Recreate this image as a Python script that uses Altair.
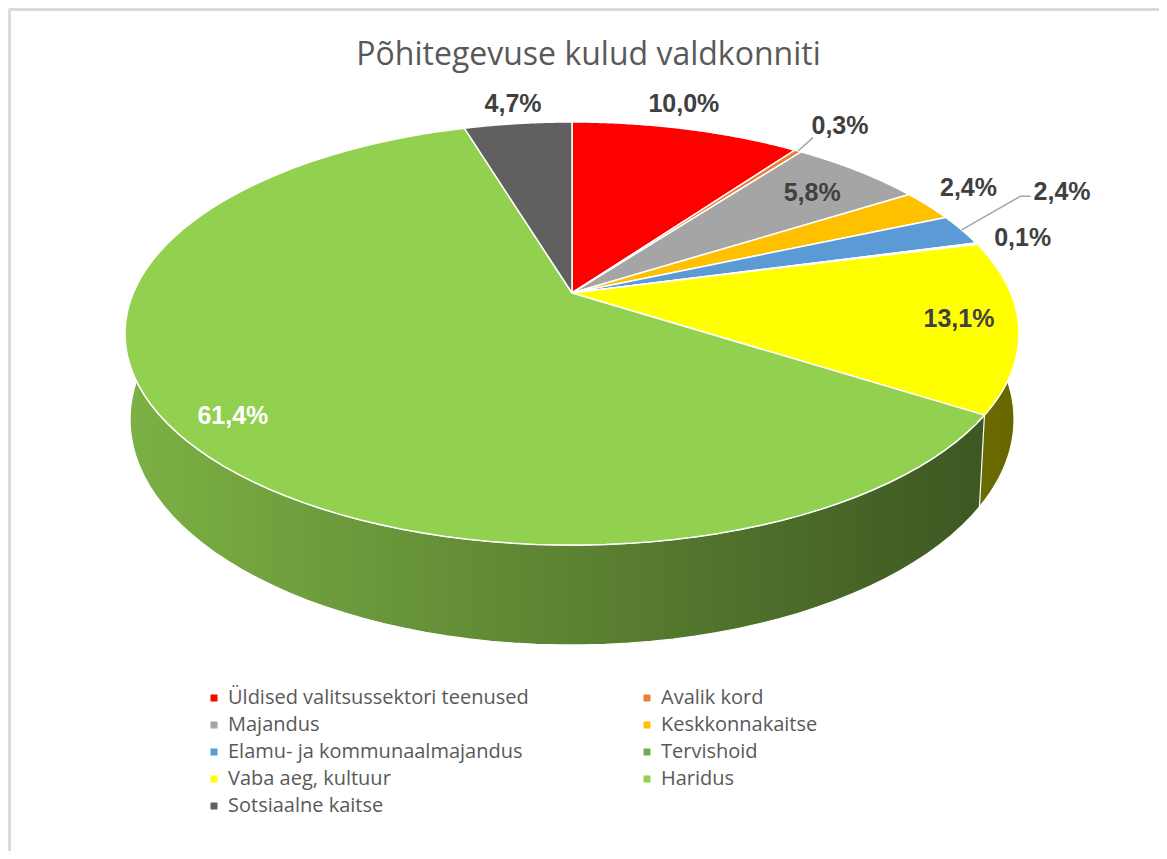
import altair as alt
import pandas as pd

# ---- data -------------------------------------------------------------
CATEGORIES = [
    "Üldised valitsussektori teenused",
    "Avalik kord",
    "Majandus",
    "Keskkonnakaitse",
    "Elamu- ja kommunaalmajandus",
    "Tervishoid",
    "Vaba aeg, kultuur",
    "Haridus",
    "Sotsiaalne kaitse",
]
VALUES = [10.0, 0.3, 5.8, 2.4, 2.4, 0.1, 13.1, 61.4, 4.7]
COLORS = ["#FF0000", "#ED7D31", "#A5A5A5", "#FFC000", "#5B9BD5",
          "#70AD47", "#FFFF00", "#92D050", "#606060"]

# ---- label layout (radial factor, angular nudge in degrees, leader type) ----
LABEL_R = [1.17, 1.21, 0.81, 1.155, 1.35, 1.12, 0.87, 0.88, 1.14]
LABEL_DA = [-2.6, 0.3, 0.8, -1.9, -4.7, 0.0, -0.8, -0.9, 0.2]
LEADER = [0, 1, 0, 0, 2, 0, 0, 0, 0]

# legend is filled column by column: reorder so it reads row by row
LEGEND_DOMAIN = CATEGORIES[0::2] + CATEGORIES[1::2]
LEGEND_RANGE = COLORS[0::2] + COLORS[1::2]

# ---- geometry of the 3-D view -----------------------------------------
W, HH = 1151, 843
CX, CY = 564, 285          # apex of the pie in plot coordinates
F, S, C, D = 2027, 0.4645, 0.885, 4.62
H = 0.218                  # thickness of the pie
HS = 0.5                   # perspective factor applied to the thickness
N = 90

df = pd.DataFrame({
    "category": CATEGORIES, "value": VALUES, "idx": list(range(len(VALUES))),
    "lr": LABEL_R, "lda": LABEL_DA, "leader": LEADER,
})

xs = alt.Scale(domain=[0, W], nice=False, zero=False)
ys = alt.Scale(domain=[0, HH], nice=False, zero=False, reverse=True)
X = alt.X("X:Q", scale=xs, axis=None)
Y = alt.Y("Y:Q", scale=ys, axis=None)

legend = alt.Legend(
    title=None, orient="none", legendX=196, legendY=680, columns=2,
    columnPadding=108, rowPadding=7, symbolType="square", symbolSize=49,
    symbolStrokeWidth=0, labelFont="Open Sans", labelFontSize=20,
    labelColor="#595959", labelLimit=500, labelOffset=4, padding=0,
)
COLOR = alt.Color("category:N",
                  scale=alt.Scale(domain=LEGEND_DOMAIN, range=LEGEND_RANGE),
                  legend=legend)

base = (
    alt.Chart(df)
    .transform_window(cum="sum(value)", sort=[alt.SortField("idx")], frame=[None, 0])
    .transform_joinaggregate(total="sum(value)")
    .transform_calculate(a1="datum.cum/datum.total*2*PI",
                         a0="(datum.cum-datum.value)/datum.total*2*PI")
    .transform_calculate(mid="(datum.a0+datum.a1)/2")
)


def project(ch):
    return (
        ch.transform_calculate(den=f"{D}+{C}*datum.r*cos(datum.th)+datum.hh*{S * HS}")
        .transform_calculate(
            X=f"{CX}+{F}*datum.r*sin(datum.th)/datum.den",
            Y=f"{CY}-{F}*({S}*datum.r*cos(datum.th)-datum.hh*{C})/datum.den",
        )
    )


def band(ch, n):
    ch = (
        ch.transform_calculate(seq=f"sequence(0,{2 * n + 2})")
        .transform_flatten(["seq"], as_=["t"])
        .transform_calculate(k=f"datum.t<={n}?datum.t:{2 * n + 1}-datum.t",
                             hh=f"datum.t<={n}?0:{H}", r="1")
        .transform_calculate(th=f"datum.a0+(datum.a1-datum.a0)*datum.k/{n}")
    )
    return project(ch)


# side of the pie
side_fill = band(base, N).mark_line(filled=True, strokeWidth=0).encode(
    x=X, y=Y, color=COLOR, order="t:Q")

shade = alt.LinearGradient(
    gradient="linear", x1=0, x2=1, y1=0, y2=0,
    stops=[alt.GradientStop(offset=0, color="rgba(0,0,0,0.15)"),
           alt.GradientStop(offset=1, color="rgba(0,0,0,0.60)")],
)
overlay_src = base.transform_filter("datum.idx==0").transform_calculate(a0="0", a1="2*PI")
side_shade = band(overlay_src, 360).mark_line(
    filled=True, fill=shade, strokeOpacity=0).encode(x=X, y=Y, order="t:Q")

side_lines = band(base, N).mark_line(color="white", strokeWidth=1.2).encode(
    x=X, y=Y, detail="category:N", order="t:Q")

# top face
top_src = (
    base.transform_calculate(seq=f"sequence(0,{N + 3})")
    .transform_flatten(["seq"], as_=["t"])
    .transform_calculate(k=f"clamp(datum.t-1,0,{N})",
                         r=f"(datum.t==0||datum.t=={N + 2})?0:1", hh="0")
    .transform_calculate(th=f"datum.a0+(datum.a1-datum.a0)*datum.k/{N}")
)
top = project(top_src).mark_line(
    filled=True, stroke="white", strokeWidth=1.5, strokeJoin="round").encode(
    x=X, y=Y, color=COLOR, order="t:Q")

# leader lines
lead_src = (
    base.transform_filter("datum.leader>0")
    .transform_calculate(seq="sequence(0,3)")
    .transform_flatten(["seq"], as_=["t"])
    .transform_calculate(
        th="datum.t==0?datum.mid:datum.mid+(datum.lda-1)*PI/180",
        r="datum.t==0?1:datum.lr-0.11", hh="0")
)
leaders = (
    project(lead_src)
    .transform_calculate(X="datum.X+((datum.t==2&&datum.leader==2)?10:0)")
    .mark_line(color="#A6A6A6", strokeWidth=1.5)
    .encode(x=X, y=Y, detail="category:N", order="t:Q")
)

# data labels
lab_src = base.transform_calculate(th="datum.mid+datum.lda*PI/180", r="datum.lr", hh="0")
labels = (
    project(lab_src)
    .transform_calculate(lab="replace(format(datum.value,'.1f'),'.',',')+'%'")
    .mark_text(font="Liberation Sans", fontSize=25, fontWeight="bold",
               align="center", baseline="middle")
    .encode(x=X, y=Y, text="lab:N",
            color=alt.condition("datum.value > 50", alt.value("white"), alt.value("#404040")))
)

# chart frame (top and left edges visible)
frame_top = alt.Chart(alt.Data(values=[{}])).mark_rule(color="#D9D9D9", strokeWidth=2).encode(
    x=alt.value(2), x2=alt.value(W), y=alt.value(2))
frame_left = alt.Chart(alt.Data(values=[{}])).mark_rule(color="#D9D9D9", strokeWidth=2).encode(
    x=alt.value(2), y=alt.value(2), y2=alt.value(HH))

chart = (
    alt.layer(side_fill, side_shade, side_lines, top, leaders, labels, frame_top, frame_left)
    .properties(
        width=W, height=HH, padding=0,
        autosize=alt.AutoSizeParams(type="none"),
        title=alt.Title("Põhitegevuse kulud valdkonniti", font="Open Sans", fontSize=32,
                        fontWeight="normal", color="#595959", anchor="middle", dy=68, dx=5),
    )
    .configure_view(stroke=None)
    .configure(background="white")
)

chart.save("out.html", embed_options={"renderer": "svg", "actions": False})
